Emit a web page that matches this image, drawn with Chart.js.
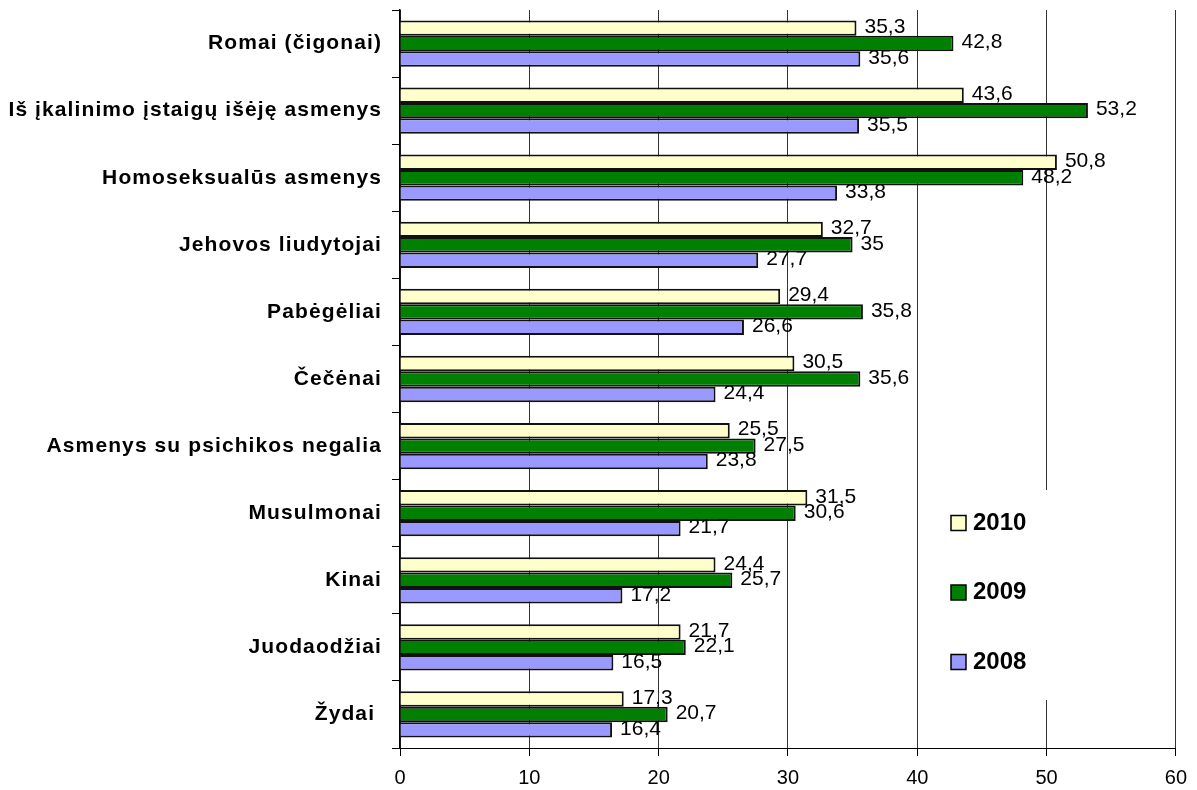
<!DOCTYPE html>
<html lang="lt">
<head>
<meta charset="utf-8">
<title>Socialinės grupės 2008–2010</title>
<script src="https://cdn.jsdelivr.net/npm/chart.js@4.4.1/dist/chart.umd.min.js"></script>
<style>
  html, body { margin: 0; padding: 0; background: #fff; }
  #wrap { position: relative; width: 1197px; height: 790px; }
</style>
</head>
<body>
<div id="wrap"><canvas id="grafikas" width="1197" height="790"></canvas></div>
<script>
const kategorijos = [
  "Romai (čigonai)",
  "Iš įkalinimo įstaigų išėję asmenys",
  "Homoseksualūs asmenys",
  "Jehovos liudytojai",
  "Pabėgėliai",
  "Čečėnai",
  "Asmenys su psichikos negalia",
  "Musulmonai",
  "Kinai",
  "Juodaodžiai",
  "Žydai "
];

const metai2010 = [35.3, 43.6, 50.8, 32.7, 29.4, 30.5, 25.5, 31.5, 24.4, 21.7, 17.3];
const metai2009 = [42.8, 53.2, 48.2, 35, 35.8, 35.6, 27.5, 30.6, 25.7, 22.1, 20.7];
const metai2008 = [35.6, 35.5, 33.8, 27.7, 26.6, 24.4, 23.8, 21.7, 17.2, 16.5, 16.4];

const serijuPavadinimai = ["2010", "2009", "2008"];
const xMin = 0;
const xMax = 60;
const xZingsnis = 10;

const SRIFTAS = "Arial, 'Liberation Sans', sans-serif";

function formatuotiSkaiciu(v) {
  return String(v).replace(".", ",");
}

// kategoriju pavadinimai kairėje (su tarpais tarp raidžių kaip originale)
const kategorijuPavadinimai = {
  id: "kategorijuPavadinimai",
  afterDraw(chart) {
    const ctx = chart.ctx;
    const yScale = chart.scales.y;
    ctx.save();
    ctx.font = "bold 21px " + SRIFTAS;
    ctx.letterSpacing = "1.1px";
    ctx.fillStyle = "#000";
    ctx.textAlign = "right";
    ctx.textBaseline = "middle";
    chart.data.labels.forEach((pav, i) => {
      ctx.fillText(pav, yScale.right - 18, yScale.getPixelForValue(i));
    });
    ctx.restore();
  }
};

// reikšmės prie stulpelių galų
const reiksmiuEtiketes = {
  id: "reiksmiuEtiketes",
  afterDatasetsDraw(chart) {
    const ctx = chart.ctx;
    ctx.save();
    ctx.font = "21px " + SRIFTAS;
    ctx.fillStyle = "#000";
    ctx.textAlign = "left";
    ctx.textBaseline = "middle";
    chart.data.datasets.forEach((ds, di) => {
      const meta = chart.getDatasetMeta(di);
      meta.data.forEach((bar, i) => {
        ctx.fillText(formatuotiSkaiciu(ds.data[i]), bar.x + 8, bar.y - 1);
      });
    });
    ctx.restore();
  }
};

// legenda baltame langelyje grafiko viduje
const legendaViduje = {
  id: "legendaViduje",
  beforeDatasetsDraw(chart) {
    const ctx = chart.ctx;
    const area = chart.chartArea;
    const kaire = area.left + 535;
    const virsus = area.top + 480;
    ctx.save();
    ctx.fillStyle = "#fff";
    ctx.fillRect(kaire, virsus, 230, 210);

    ctx.font = "bold 24px " + SRIFTAS;
    ctx.textAlign = "left";
    ctx.textBaseline = "middle";
    chart.data.datasets.forEach((ds, i) => {
      const y = virsus + 33 + i * 69.5;
      ctx.fillStyle = ds.backgroundColor;
      ctx.fillRect(kaire + 16, y - 7.5, 15, 15);
      ctx.strokeStyle = "#000";
      ctx.lineWidth = 1.5;
      ctx.strokeRect(kaire + 16, y - 7.5, 15, 15);
      ctx.fillStyle = "#000";
      ctx.fillText(ds.label, kaire + 38, y);
    });
    ctx.restore();
  }
};

new Chart(document.getElementById("grafikas"), {
  type: "bar",
  data: {
    labels: kategorijos,
    datasets: [
      {
        label: serijuPavadinimai[0],
        data: metai2010,
        backgroundColor: "#FFFFCC",
        borderColor: "#111",
        borderWidth: 2
      },
      {
        label: serijuPavadinimai[1],
        data: metai2009,
        backgroundColor: "#008000",
        borderColor: "#111",
        borderWidth: 2
      },
      {
        label: serijuPavadinimai[2],
        data: metai2008,
        backgroundColor: "#9999FF",
        borderColor: "#111",
        borderWidth: 2
      }
    ]
  },
  options: {
    indexAxis: "y",
    responsive: false,
    animation: false,
    devicePixelRatio: 1,
    layout: {
      padding: { top: 10, right: 20, bottom: 0, left: 0 }
    },
    datasets: {
      bar: {
        categoryPercentage: 0.69,
        barPercentage: 1
      }
    },
    plugins: {
      legend: { display: false },
      tooltip: { enabled: false }
    },
    scales: {
      x: {
        min: xMin,
        max: xMax,
        ticks: {
          stepSize: xZingsnis,
          color: "#000",
          padding: 10,
          font: { family: SRIFTAS, size: 20 }
        },
        grid: {
          color: "#333",
          lineWidth: 1,
          tickLength: 8,
          tickColor: "#000"
        },
        border: { display: true, color: "#000", width: 1 },
        afterFit(scale) {
          scale.height = 42;
        }
      },
      y: {
        ticks: { display: false },
        grid: {
          drawOnChartArea: false,
          drawTicks: true,
          tickLength: 8,
          tickColor: "#000",
          offset: true
        },
        border: { display: true, color: "#000", width: 1.5 },
        afterFit(scale) {
          scale.width = 400;
        }
      }
    }
  },
  plugins: [legendaViduje, reiksmiuEtiketes, kategorijuPavadinimai]
});
</script>
</body>
</html>
